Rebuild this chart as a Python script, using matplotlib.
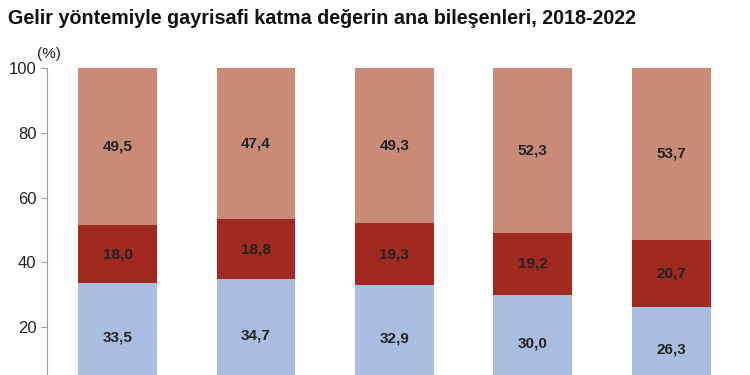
import matplotlib.pyplot as plt
import numpy as np

years = ["2018", "2019", "2020", "2021", "2022"]
blue_vals = [33.5, 34.7, 32.9, 30.0, 26.3]
red_vals = [18.0, 18.8, 19.3, 19.2, 20.7]
salmon_vals = [49.5, 47.4, 49.3, 52.3, 53.7]

plt.rcParams['font.family'] = ['Liberation Sans', 'DejaVu Sans']

fig = plt.figure(figsize=(7.5, 3.75), dpi=100)
ax = fig.add_axes([0.0627, 0.0, 0.9263, 0.8187])

x = np.arange(len(years))
w = 0.57
b = np.array(blue_vals)
r = np.array(red_vals)
s = np.array(salmon_vals)

ax.bar(x, b, w, color="#A9BDE0")
ax.bar(x, r, w, bottom=b, color="#A02A20")
ax.bar(x, s, w, bottom=b + r, color="#C98B78")

# value labels in the middle of each segment
for i in range(len(years)):
    top = min(100, b[i] + r[i] + s[i])
    mids = [b[i] / 2, b[i] + r[i] / 2, (b[i] + r[i] + top) / 2]
    for v, m in zip([b[i], r[i], s[i]], mids):
        ax.text(x[i], m, f"{v:.1f}".replace(".", ","), ha="center", va="center",
                fontsize=11, fontweight="bold", color="#222222")

ax.set_xlim(-0.51, 4.51)
ax.set_ylim(5.2, 100)
ax.set_yticks([20, 40, 60, 80, 100])
ax.set_xticks([])
for side in ["top", "right", "bottom"]:
    ax.spines[side].set_visible(False)
ax.spines["left"].set_color("#999999")
ax.tick_params(axis="y", colors="#999999", length=4, labelsize=12, labelcolor="#222222")

fig.text(0.049, 0.845, "(%)", fontsize=11, color="#222222")
fig.text(0.011, 0.952, "Gelir yöntemiyle gayrisafi katma değerin ana bileşenleri, 2018-2022",
         fontsize=14.2, fontweight="bold", color="#111111", va="center")

fig.savefig("out.png", dpi=100)
